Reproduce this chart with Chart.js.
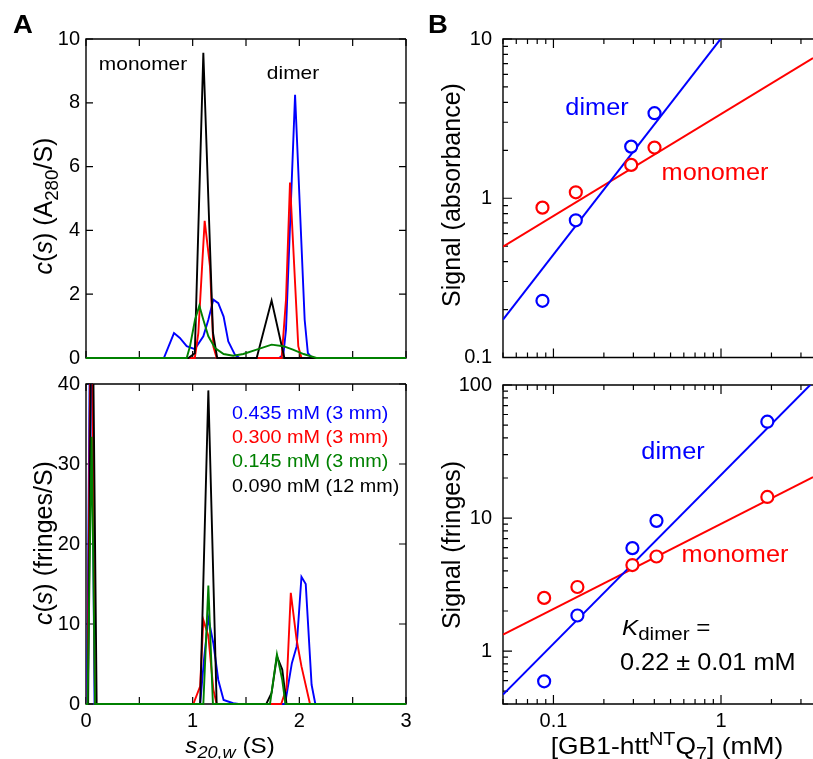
<!DOCTYPE html>
<html>
<head>
<meta charset="utf-8">
<script src="https://cdn.jsdelivr.net/npm/chart.js@4.4.1/dist/chart.umd.min.js"></script>
<style>
  html, body { margin: 0; padding: 0; background: #fff; overflow: hidden; }
  #fig { position: relative; width: 813px; height: 759px; font-family: "Liberation Sans", Arial, Helvetica, sans-serif; color: #000; }
  #fig canvas { position: absolute; left: 0; top: 0; }
  .t { position: absolute; white-space: nowrap; line-height: 1; transform: translate(-50%, -50%) scaleX(1.1); }
  .l { position: absolute; white-space: nowrap; transform-origin: 0 50%; transform: translate(0, -50%) scaleX(1.1); }
  .rot { position: absolute; white-space: nowrap; line-height: 1; transform: translate(-50%, -50%) rotate(-90deg); font-size: 25px; }
  sub, sup { font-size: 0.75em; line-height: 0; }
  .blue { color: #0000ff; }
  .red { color: #ff0000; }
  .green { color: #008000; }
</style>
</head>
<body>
<div id="fig">
  <canvas id="aTop" width="813" height="759"></canvas>
  <canvas id="aBot" width="813" height="759"></canvas>
  <canvas id="bTop" width="813" height="759"></canvas>
  <canvas id="bBot" width="813" height="759"></canvas>

  <div class="t" style="left:23px; top:24px; font-size:25px; font-weight:bold;">A</div>
  <div class="t" style="left:438px; top:24px; font-size:25px; font-weight:bold;">B</div>

  <div class="t" style="left:143px; top:63px; font-size:19px;">monomer</div>
  <div class="t" style="left:293px; top:72px; font-size:19px;">dimer</div>

  <div class="l" style="left:232px; top:449px; font-size:18px; line-height:24.2px;">
    <div class="blue">0.435 mM (3 mm)</div>
    <div class="red">0.300 mM (3 mm)</div>
    <div class="green">0.145 mM (3 mm)</div>
    <div>0.090 mM (12 mm)</div>
  </div>

  <div class="rot" style="left:43px; top:206px;"><i>c</i>(<i>s</i>) (A<sub>280</sub>/S)</div>
  <div class="rot" style="left:43px; top:543px;"><i>c</i>(<i>s</i>) (fringes/S)</div>
  <div class="t" style="left:230px; top:746px; font-size:22px;"><i>s</i><sub><i>20,w</i></sub> (S)</div>

  <div class="rot" style="left:451px; top:195px;">Signal (absorbance)</div>
  <div class="rot" style="left:451px; top:545px;">Signal (fringes)</div>
  <div class="t" style="left:667px; top:746px; font-size:24px;">[GB1-htt<sup>NT</sup>Q<sub>7</sub>] (mM)</div>

  <div class="t blue" style="left:597px; top:107px; font-size:23px;">dimer</div>
  <div class="t red" style="left:715px; top:172px; font-size:23px;">monomer</div>
  <div class="t blue" style="left:673px; top:451px; font-size:23px;">dimer</div>
  <div class="t red" style="left:735px; top:554px; font-size:23px;">monomer</div>
  <div class="l" style="left:622px; top:628px; font-size:22px; line-height:1;"><i>K</i><sub style="font-size:0.85em;">dimer</sub> =</div>
  <div class="l" style="left:620px; top:662px; font-size:23px; line-height:1;">0.22 ± 0.01 mM</div>
</div>

<script>
// panel A top: c(s) from absorbance, pairs of [s20,w, c(s)]
const absBlue = [[0,0],[0.73,0],[0.825,0.78],[0.88,0.63],[0.944,0.37],[1.02,0.28],[1.10,0.68],[1.147,1.2],[1.194,1.83],[1.24,1.72],[1.29,1.3],[1.334,0.52],[1.397,0.1],[1.44,0],[1.81,0],[1.85,0.1],[1.875,0.89],[1.96,8.25],[2.05,1.2],[2.08,0.15],[2.12,0],[3,0]];
const absRed = [[0,0],[1.02,0],[1.053,0.78],[1.1125,4.3],[1.1625,2.87],[1.194,0.36],[1.225,0],[1.834,0],[1.875,1.83],[1.9125,5.5],[1.96,2.35],[1.99,0.37],[2.02,0],[3,0]];
const absGreen = [[0,0],[0.944,0],[0.975,0.37],[1.022,1.2],[1.0625,1.64],[1.10,1.2],[1.147,0.68],[1.21,0.31],[1.29,0.125],[1.38,0.07],[1.475,0.125],[1.60,0.26],[1.74,0.42],[1.85,0.37],[1.94,0.26],[2.04,0.125],[2.16,0],[3,0]];
const absBlack = [[0,0],[0.96,0],[1.02,0.15],[1.10,9.57],[1.19,0.8],[1.23,0],[1.60,0],[1.74,1.8],[1.86,0],[3,0]];

// panel A bottom: c(s) from interference
const frBlue = [[0,0],[0.01,0],[0.045,60],[0.08,0],[1.07,0],[1.106,5.5],[1.147,10.75],[1.194,7.6],[1.24,3],[1.29,0.5],[1.38,0.1],[1.43,0],[1.866,0],[1.93,5.1],[1.975,7.2],[2.02,15.9],[2.06,15],[2.115,2.4],[2.15,0],[3,0]];
const frRed = [[0,0],[0.015,0],[0.05,60],[0.085,0],[1.006,0],[1.07,2.2],[1.10,10.5],[1.147,8.5],[1.194,1.8],[1.225,0],[1.83,0],[1.88,2],[1.92,13.9],[1.975,8],[2.02,4.7],[2.1,0],[3,0]];
const frGreen = [[0,0],[0.015,0],[0.053,33.4],[0.085,0],[1.10,0],[1.147,14.8],[1.19,0],[1.725,0],[1.79,6.2],[1.84,3],[1.87,0],[3,0]];
const frBlack = [[0,0],[0.02,0],[0.055,60],[0.10,0],[1.07,0],[1.147,39.2],[1.225,0],[1.69,0],[1.74,1.4],[1.79,5.96],[1.84,4.3],[1.88,0],[3,0]];

// panel B: signal vs concentration (mM)
const absConc = [0.086, 0.136, 0.291, 0.401];
const absMonomer = [0.873, 1.09, 1.62, 2.08];
const absDimer = [0.227, 0.727, 2.11, 3.42];
const frConc = [0.088, 0.139, 0.296, 0.412, 1.89];
const frMonomer = [2.51, 3.03, 4.43, 5.14, 14.4];
const frDimer = [0.592, 1.85, 5.94, 9.52, 53.0];
// fitted lines, end points
const fitConc = [0.05, 3.54];
const absMonomerFit = [0.497, 7.59];
const absDimerFit = [0.173, 56];
const frMonomerFit = [1.33, 20.3];
const frDimerFit = [0.471, 105];

// tick labels
const aXLabels = [0, 1, 2, 3];
const bXLabels = [0.1, 1];
const bTopYLabels = [0.1, 1, 10];
const bBotYLabels = [1, 10, 100];

const BLUE = '#0000ff', RED = '#ff0000', GREEN = '#008000', BLACK = '#000000';
const W = 813, H = 759;

Chart.defaults.font.family = '"Liberation Sans", Arial, Helvetica, sans-serif';
Chart.defaults.font.size = 20;
Chart.defaults.color = '#000';

const pts = arr => arr.map(p => ({ x: p[0], y: p[1] }));
const zip = (xs, ys) => xs.map((x, i) => ({ x: x, y: ys[i] }));
const isDecade = v => Math.abs(Math.log10(v) - Math.round(Math.log10(v))) < 1e-6;

// frame + inward tick marks on every side
const frame = {
  id: 'frame',
  beforeDatasetsDraw(chart, args, o) {
    const { ctx, chartArea: a, scales } = chart;
    const len = v => (o.log && !isDecade(v)) ? o.minor : o.major;
    ctx.save();
    ctx.strokeStyle = '#000';
    ctx.lineWidth = 1.4;
    ctx.beginPath();
    ctx.moveTo(a.right, a.top);
    ctx.lineTo(a.left, a.top);
    ctx.lineTo(a.left, a.bottom);
    ctx.lineTo(a.right, a.bottom);
    if (o.right) ctx.lineTo(a.right, a.top);
    ctx.stroke();
    ctx.lineWidth = 1.2;
    ctx.beginPath();
    scales.x.ticks.forEach(t => {
      const p = scales.x.getPixelForValue(t.value);
      ctx.moveTo(p, a.bottom); ctx.lineTo(p, a.bottom - len(t.value));
      ctx.moveTo(p, a.top); ctx.lineTo(p, a.top + len(t.value));
    });
    scales.y.ticks.forEach(t => {
      const p = scales.y.getPixelForValue(t.value);
      ctx.moveTo(a.left, p); ctx.lineTo(a.left + len(t.value), p);
      if (o.right) { ctx.moveTo(a.right, p); ctx.lineTo(a.right - len(t.value), p); }
    });
    ctx.stroke();
    ctx.restore();
  }
};

function logTicks(scale) {
  const out = [];
  for (let e = -2; e <= 2; e++) {
    for (let m = 1; m < 10; m++) {
      const v = m * Math.pow(10, e);
      if (v >= scale.min * 0.999 && v <= scale.max * 1.001) out.push({ value: v });
    }
  }
  scale.ticks = out;
}

function labelFrom(list) {
  return v => {
    const hit = list.find(l => Math.abs(l - v) < 1e-9 * Math.max(1, l));
    return hit === undefined ? '' : String(hit);
  };
}

function makeChart(id, area, datasets, xOpts, yOpts, frameOpts) {
  return new Chart(document.getElementById(id), {
    type: 'scatter',
    data: { datasets: datasets },
    plugins: [frame],
    options: {
      responsive: false,
      animation: false,
      devicePixelRatio: 1,
      events: [],
      layout: {
        autoPadding: false,
        padding: { left: 0, top: area.top, right: W - area.right, bottom: 0 }
      },
      scales: {
        x: Object.assign({
          grid: { display: false, drawTicks: false },
          border: { display: false },
          afterFit: s => {
            s.height = H - area.bottom;
            s.paddingLeft = 0; s.paddingRight = 0;
          }
        }, xOpts),
        y: Object.assign({
          grid: { display: false, drawTicks: false },
          border: { display: false },
          afterFit: s => {
            s.width = area.left;
            s.paddingTop = 0; s.paddingBottom = 0;
          }
        }, yOpts)
      },
      plugins: {
        legend: { display: false },
        tooltip: { enabled: false },
        frame: frameOpts
      }
    }
  });
}

function curve(data, color) {
  return {
    data: pts(data),
    showLine: true,
    borderColor: color,
    borderWidth: 1.9,
    pointRadius: 0,
    tension: 0,
    clip: { left: 0, right: 0, top: 0, bottom: 3 }
  };
}

function fitLine(ys, color) {
  return {
    data: zip(fitConc, ys),
    showLine: true,
    borderColor: color,
    borderWidth: 2,
    pointRadius: 0
  };
}

function circles(xs, ys, color) {
  return {
    data: zip(xs, ys),
    showLine: false,
    pointRadius: 6,
    pointBorderWidth: 2.2,
    pointBorderColor: color,
    pointBackgroundColor: '#fff'
  };
}

const aX = (labels) => ({
  type: 'linear', min: 0, max: 3,
  ticks: { stepSize: 0.5, display: labels, padding: 5, autoSkip: false, callback: labelFrom(aXLabels) }
});

// A top
makeChart('aTop', { left: 86, top: 39, right: 406, bottom: 358 },
  [curve(absGreen, GREEN), curve(absBlack, BLACK), curve(absRed, RED), curve(absBlue, BLUE)],
  aX(false),
  { type: 'linear', min: 0, max: 10, ticks: { stepSize: 2, padding: 6 } },
  { right: true, major: 7, minor: 7, log: false });

// A bottom
makeChart('aBot', { left: 86, top: 384, right: 406, bottom: 704 },
  [curve(frGreen, GREEN), curve(frBlack, BLACK), curve(frRed, RED), curve(frBlue, BLUE)],
  aX(true),
  { type: 'linear', min: 0, max: 40, ticks: { stepSize: 10, padding: 6 } },
  { right: true, major: 7, minor: 7, log: false });

const bX = (labels) => ({
  type: 'logarithmic', min: fitConc[0], max: fitConc[1],
  afterBuildTicks: logTicks,
  ticks: { display: labels, padding: 5, autoSkip: false, maxRotation: 0, callback: labelFrom(bXLabels) }
});

// B top
makeChart('bTop', { left: 503, top: 39, right: 813, bottom: 357.5 },
  [circles(absConc, absDimer, BLUE), circles(absConc, absMonomer, RED),
   fitLine(absDimerFit, BLUE), fitLine(absMonomerFit, RED)],
  bX(false),
  { type: 'logarithmic', min: 0.1, max: 10, afterBuildTicks: logTicks,
    ticks: { padding: 11, autoSkip: false, callback: labelFrom(bTopYLabels) } },
  { right: false, major: 9, minor: 5, log: true });

// B bottom
makeChart('bBot', { left: 503, top: 385, right: 813, bottom: 704 },
  [circles(frConc, frDimer, BLUE), circles(frConc, frMonomer, RED),
   fitLine(frDimerFit, BLUE), fitLine(frMonomerFit, RED)],
  bX(true),
  { type: 'logarithmic', min: 0.4, max: 100, afterBuildTicks: logTicks,
    ticks: { padding: 11, autoSkip: false, callback: labelFrom(bBotYLabels) } },
  { right: false, major: 9, minor: 5, log: true });
</script>
</body>
</html>
